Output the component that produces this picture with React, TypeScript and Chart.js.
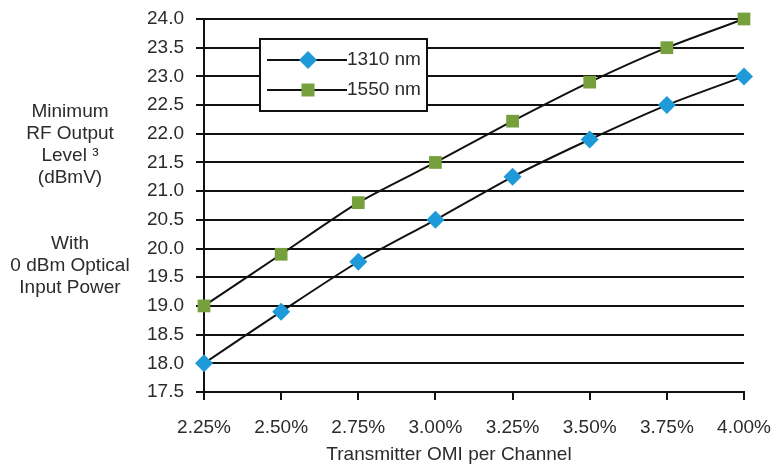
import React, { useEffect, useRef } from "react";
import { Chart, registerables } from "chart.js";

Chart.register(...registerables);

const categories = ["2.25%", "2.50%", "2.75%", "3.00%", "3.25%", "3.50%", "3.75%", "4.00%"];
const series1310 = [18.0, 18.9, 19.77, 20.5, 21.25, 21.9, 22.5, 23.0];
const series1550 = [19.0, 19.9, 20.8, 21.5, 22.22, 22.9, 23.5, 24.0];
const seriesLabels = ["1310 nm", "1550 nm"];
const yTitleLines = ["Minimum", "RF Output", "Level ³", "(dBmV)", "", "", "With", "0 dBm Optical", "Input Power"];
const xTitle = "Transmitter OMI per Channel";
const yMin = 17.5;
const yMax = 24.0;
const yStep = 0.5;

const FONT = "'Liberation Sans', Arial, sans-serif";
const TEXT = "#2b2b2b";
const BLUE = "#1f9ad8";
const GREEN = "#76a03c";

const textPlugin = {
  id: "customText",
  afterDraw(chart: any) {
    const ctx = chart.ctx;
    const ca = chart.chartArea;
    ctx.save();
    // Y title block
    ctx.fillStyle = TEXT;
    ctx.font = `19px ${FONT}`;
    ctx.textAlign = "center";
    ctx.textBaseline = "middle";
    yTitleLines.forEach((line, i) => {
      if (line) ctx.fillText(line, 70, 112 + i * 22);
    });
    // X title
    ctx.fillText(xTitle, 449, 455);
    // Legend box
    const bx = ca.left + 56;
    const by = ca.top + 20;
    const bw = 167;
    const bh = 72;
    ctx.fillStyle = "#ffffff";
    ctx.fillRect(bx, by, bw, bh);
    ctx.strokeStyle = "#111";
    ctx.lineWidth = 2;
    ctx.strokeRect(bx, by, bw, bh);
    const rows = [
      { label: seriesLabels[0], color: BLUE, style: "diamond" },
      { label: seriesLabels[1], color: GREEN, style: "square" },
    ];
    rows.forEach((r, i) => {
      const y = by + 21 + i * 30;
      ctx.strokeStyle = "#111";
      ctx.lineWidth = 2;
      ctx.beginPath();
      ctx.moveTo(bx + 7, y);
      ctx.lineTo(bx + 87, y);
      ctx.stroke();
      ctx.fillStyle = r.color;
      const cx = bx + 48;
      if (r.style === "diamond") {
        ctx.beginPath();
        ctx.moveTo(cx, y - 9);
        ctx.lineTo(cx + 9, y);
        ctx.lineTo(cx, y + 9);
        ctx.lineTo(cx - 9, y);
        ctx.closePath();
        ctx.fill();
      } else {
        ctx.fillRect(cx - 6.5, y - 6.5, 13, 13);
      }
      ctx.fillStyle = TEXT;
      ctx.textAlign = "left";
      ctx.fillText(r.label, bx + 87, y);
    });
    ctx.restore();
  },
};

export default function App() {
  const ref = useRef<HTMLCanvasElement | null>(null);
  useEffect(() => {
    if (!ref.current) return;
    const chart = new Chart(ref.current, {
      type: "line",
      data: {
        labels: categories,
        datasets: [
          {
            label: seriesLabels[0],
            data: series1310,
            borderColor: "#111",
            borderWidth: 2,
            pointStyle: "rectRot",
            pointRadius: 9,
            pointBackgroundColor: BLUE,
            pointBorderWidth: 0,
            tension: 0.25,
            clip: false as any,
          },
          {
            label: seriesLabels[1],
            data: series1550,
            borderColor: "#111",
            borderWidth: 2,
            pointStyle: "rect",
            pointRadius: 9,
            pointBackgroundColor: GREEN,
            pointBorderWidth: 0,
            tension: 0.25,
            clip: false as any,
          },
        ],
      },
      options: {
        animation: false,
        responsive: false,
        maintainAspectRatio: false,
        layout: { padding: { top: 19, right: 32, left: 0, bottom: 0 } },
        plugins: { legend: { display: false }, tooltip: { enabled: false } },
        scales: {
          x: {
            type: "category",
            offset: false,
            grid: { drawOnChartArea: false, drawTicks: true, tickLength: 8, color: "#111", lineWidth: 2 },
            border: { display: true, color: "#111", width: 2 },
            ticks: { color: TEXT, font: { family: FONT, size: 19 }, padding: 16, maxRotation: 0, autoSkip: false },
            afterFit(scale: any) {
              scale.height = 75;
              scale.paddingLeft = 0;
              scale.paddingRight = 0;
            },
          },
          y: {
            min: yMin,
            max: yMax,
            grid: { color: "#111", lineWidth: 2, tickLength: 8 },
            border: { display: true, color: "#111", width: 2 },
            ticks: {
              stepSize: yStep,
              color: TEXT,
              font: { family: FONT, size: 19 },
              padding: 12,
              autoSkip: false,
              callback: (v: any) => Number(v).toFixed(1),
            },
            afterFit(scale: any) {
              scale.width = 204;
              scale.paddingTop = 0;
              scale.paddingBottom = 0;
            },
          },
        },
      },
      plugins: [textPlugin],
    });
    return () => chart.destroy();
  }, []);
  return (
    <div style={{ position: "absolute", left: 0, top: 0, width: 776, height: 467, background: "#fff" }}>
      <canvas ref={ref} width={776} height={467} style={{ width: 776, height: 467 }} />
    </div>
  );
}
